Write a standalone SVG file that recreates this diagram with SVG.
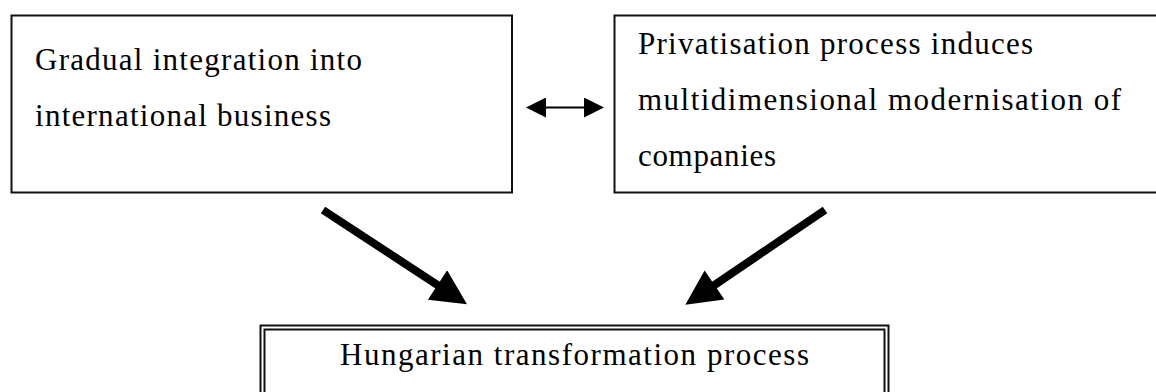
<svg xmlns="http://www.w3.org/2000/svg" width="1156" height="392" viewBox="0 0 1156 392">
<style>
.box{fill:#fff;stroke:#111;stroke-width:2}
.t{font-family:"Liberation Serif","Times New Roman",serif;font-size:31px;fill:#000}
.thick{stroke:#000;stroke-width:8;fill:none}
.thin{stroke:#000;stroke-width:2;fill:none}
</style>
<defs>
<marker id="big" viewBox="0 0 10 10" refX="0.3" refY="5" markerUnits="strokeWidth" markerWidth="4.875" markerHeight="4.4" orient="auto">
<path d="M0,0 L10,5 L0,10 z" fill="#000"/>
</marker>
<marker id="small" viewBox="0 0 10 10" refX="0.5" refY="5" markerUnits="strokeWidth" markerWidth="10" markerHeight="10" orient="auto-start-reverse">
<path d="M0,0 L10,5 L0,10 z" fill="#000"/>
</marker>
</defs>
<g id="node-integration">
<rect class="box" x="11.5" y="15.5" width="500.5" height="177"/>
<text class="t" x="35" y="70" textLength="327" lengthAdjust="spacing">Gradual integration into</text>
<text class="t" x="35" y="126" textLength="296" lengthAdjust="spacing">international business</text>
</g>
<g id="node-privatisation">
<rect class="box" x="614.5" y="15.5" width="560" height="177"/>
<text class="t" x="638" y="54" textLength="395" lengthAdjust="spacing">Privatisation process induces</text>
<text class="t" x="638" y="110" textLength="483" lengthAdjust="spacing">multidimensional modernisation of</text>
<text class="t" x="638" y="166" textLength="138" lengthAdjust="spacing">companies</text>
</g>
<g id="node-hungarian">
<rect class="box" x="260.5" y="325.5" width="628" height="80" stroke-width="1.8"/>
<rect class="box" x="264.5" y="329.5" width="620" height="80" stroke-width="1.8"/>
<text class="t" x="574.5" y="365" text-anchor="middle" textLength="469" lengthAdjust="spacing">Hungarian transformation process</text>
</g>
<g id="connectors">
<line class="thin" x1="545" y1="107.5" x2="585" y2="107.5" marker-start="url(#small)" marker-end="url(#small)"/>
<line class="thick" x1="323" y1="210" x2="438.4" y2="285.6" marker-end="url(#big)"/>
<line class="thick" x1="825" y1="210" x2="713.6" y2="285.6" marker-end="url(#big)"/>
</g>
</svg>
